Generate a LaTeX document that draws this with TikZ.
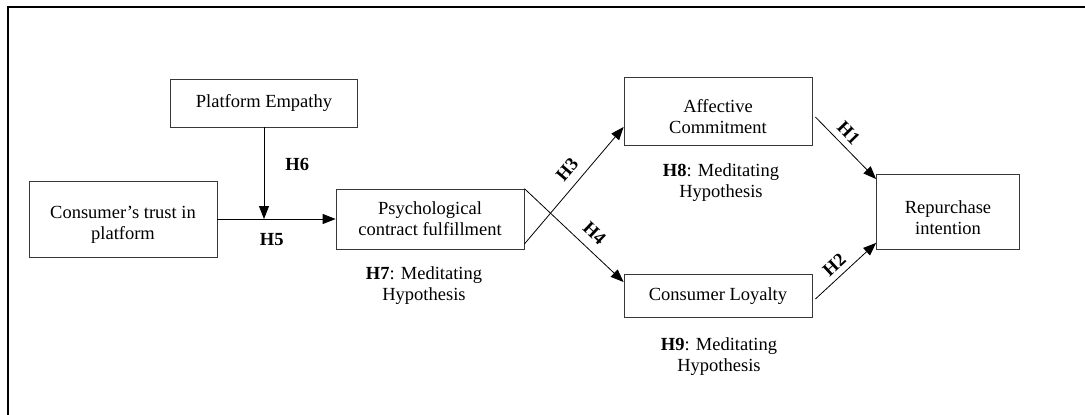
\documentclass[tikz,border=0pt]{standalone}
\usepackage{fontspec}
\setmainfont{Liberation Serif}
\usetikzlibrary{arrows.meta}
\definecolor{boxgray}{rgb}{0.22,0.22,0.22}
\newcommand{\lowstrut}{\rule{0pt}{24pt}}

\begin{document}
\begin{tikzpicture}[x=1pt,y=-1pt,
        construct/.style={draw=boxgray, line width=0.8pt, align=center, inner sep=0pt,
            font=\fontsize{18.5}{21}\selectfont},
        hyp/.style={draw=black, line width=0.8pt, -{Triangle[length=13pt,width=10pt]}},
        hyplabel/.style={inner sep=0pt, font=\bfseries\fontsize{18.5}{21}\selectfont},
        hypnote/.style={align=center, inner sep=0pt, font=\fontsize{18.5}{21}\selectfont},
    ]
        \useasboundingbox (0,0) rectangle (1085,415);
        \draw[line width=1.6pt] (8,415) -- (8,7) -- (1085,7);

        \node[construct, minimum width=187pt, minimum height=48pt] (emp) at (264,103) {Platform Empathy};
        \node[construct, minimum width=188pt, minimum height=76pt] (trust) at (123,219) {\lowstrut Consumer’s trust in\\platform};
        \node[construct, minimum width=188pt, minimum height=60pt] (pcf) at (430,219) {Psychological\\contract fulfillment};
        \node[construct, minimum width=188pt, minimum height=68pt] (ac) at (718,111) {\lowstrut Affective\\Commitment};
        \node[construct, minimum width=188pt, minimum height=43pt] (cl) at (718,296) {Consumer Loyalty};
        \node[construct, minimum width=143pt, minimum height=75pt] (ri) at (948,212) {\lowstrut Repurchase\\intention};

        \node[hypnote] (h7) at (424,286) {\textbf{H7}: Meditating\\Hypothesis};
        \node[hypnote] (h8) at (721,183) {\textbf{H8}: Meditating\\Hypothesis};
        \node[hypnote] (h9) at (719,357) {\textbf{H9}: Meditating\\Hypothesis};

        \coordinate (h5) at (emp.south |- pcf.west);

        \draw[hyp] (trust.east |- pcf.west) -- (pcf.west)
            node[hyplabel, pos=0.46, below=14pt] {H5};
        \draw[hyp] (emp.south) -- (h5)
            node[hyplabel, pos=0.41, right=21pt] {H6};
        \draw[hyp] ([yshift=-25pt]pcf.east) -- ([yshift=-16pt]ac.west)
            node[hyplabel, sloped, pos=0.55, above=9pt] {H3};
        \draw[hyp] (pcf.north east) -- ([yshift=14pt]cl.west)
            node[hyplabel, sloped, pos=0.6, above=9pt] {H4};
        \draw[hyp] ([xshift=3pt,yshift=-6pt]ac.east) -- ([yshift=-5pt]ri.north west)
            node[hyplabel, sloped, pos=0.4, above=6pt] {H1};
        \draw[hyp] ([xshift=3pt,yshift=-3pt]cl.east) -- ([yshift=7pt]ri.south west)
            node[hyplabel, sloped, pos=0.45, above=6pt] {H2};
    \end{tikzpicture}
\end{document}
